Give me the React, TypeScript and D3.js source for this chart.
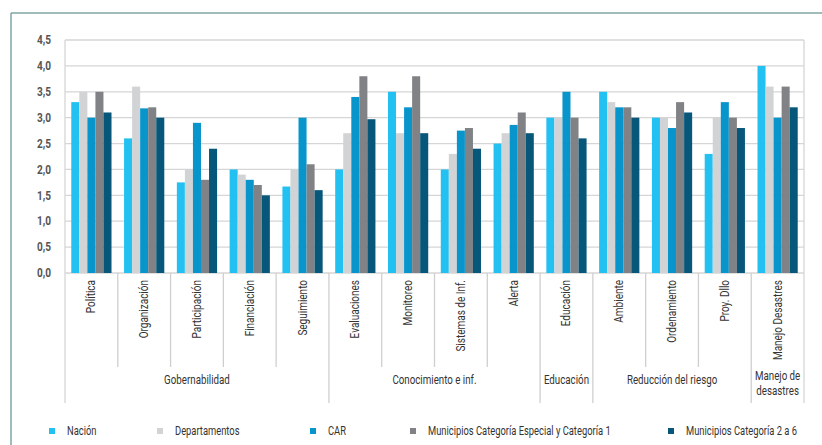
import React from "react";
import * as d3 from "d3";

const categories = ["Política", "Organización", "Participación", "Financiación", "Seguimiento", "Evaluaciones", "Monitoreo", "Sistemas de Inf.", "Alerta", "Educación", "Ambiente", "Ordenamiento", "Proy. Dllo", "Manejo Desastres"];
const seriesNames = ["Nación", "Departamentos", "CAR", "Municipios Categoría Especial y Categoría 1", "Municipios Categoría 2 a 6"];
const nacion = [3.3, 2.6, 1.75, 2.0, 1.67, 2.0, 3.5, 2.0, 2.5, 3.0, 3.5, 3.0, 2.3, 4.0];
const departamentos = [3.5, 3.6, 2.0, 1.9, 2.0, 2.7, 2.7, 2.3, 2.7, 3.0, 3.3, 3.0, 3.0, 3.6];
const car = [3.0, 3.18, 2.9, 1.8, 3.0, 3.4, 3.2, 2.75, 2.86, 3.5, 3.2, 2.8, 3.3, 3.0];
const munEspecial = [3.5, 3.2, 1.8, 1.7, 2.1, 3.8, 3.8, 2.8, 3.1, 3.0, 3.2, 3.3, 3.0, 3.6];
const mun2a6 = [3.1, 3.0, 2.4, 1.5, 1.6, 2.97, 2.7, 2.4, 2.7, 2.6, 3.0, 3.1, 2.8, 3.2];
const groups = [
  { name: ["Gobernabilidad"], start: 0, end: 4 },
  { name: ["Conocimiento e inf."], start: 5, end: 8 },
  { name: ["Educación"], start: 9, end: 9 },
  { name: ["Reducción del riesgo"], start: 10, end: 12 },
  { name: ["Manejo de", "desastres"], start: 13, end: 13 },
];
const yTicks = [0, 0.5, 1, 1.5, 2, 2.5, 3, 3.5, 4, 4.5];
const colors = ["#22c1f1", "#d1d3d4", "#0895cc", "#808285", "#06577a"];

const W = 822, H = 445;
const left = 65, right = 804, top = 40, bottom = 273;
const FONT = "Roboto, 'Noto Sans', sans-serif";
const SX = 0.75;

export default function App() {
  const series = [nacion, departamentos, car, munEspecial, mun2a6];
  const x = d3.scaleBand<string>().domain(categories).range([left, right]).paddingInner(0).paddingOuter(0);
  const x1 = d3.scaleBand<number>().domain(d3.range(series.length)).range([0, x.bandwidth()]).paddingInner(0).paddingOuter(0.78);
  const y = d3.scaleLinear().domain([0, 4.5]).range([bottom, top]);
  const fmt = (v: number) => d3.format(".1f")(v).replace(".", ",");
  const catSepBottom = 367, groupSepBottom = 403;
  const legendX = [52, 160, 313, 413, 671];
  const legendY = 431;
  return (
    <svg width={W} height={H} style={{ position: "absolute", left: 0, top: 0, background: "#fff" }} fontFamily={FONT}>
      <rect x={0} y={0} width={W} height={H} fill="#fff" />
      {/* frame */}
      <line x1={11} x2={W} y1={13} y2={13} stroke="#7fa6a3" strokeWidth={1.5} />
      <line x1={11} x2={11} y1={13} y2={H} stroke="#7fa6a3" strokeWidth={1.5} />
      {/* gridlines */}
      {yTicks.map((t) => (
        <line key={t} x1={left} x2={right} y1={y(t)} y2={y(t)} stroke="#d6d6d6" strokeWidth={1.3} />
      ))}
      <line x1={right} x2={right} y1={top} y2={groupSepBottom} stroke="#d6d6d6" strokeWidth={1.3} />
      <line x1={left} x2={left} y1={top} y2={groupSepBottom} stroke="#d6d6d6" strokeWidth={1.3} />
      {yTicks.map((t) => (
        <g key={"l" + t} transform={`translate(51,${y(t)}) scale(0.84,1)`}>
          <text x={0} y={0} dy="0.35em" textAnchor="end" fontSize={12} fontWeight="bold" fill="#555">
            {fmt(t)}
          </text>
        </g>
      ))}
      {/* bars */}
      {categories.map((c, i) => (
        <g key={c} transform={`translate(${x(c)},0)`}>
          {series.map((s, j) => (
            <rect key={j} x={x1(j)} width={x1.bandwidth()} y={y(s[i])} height={y(0) - y(s[i])} fill={colors[j]} />
          ))}
        </g>
      ))}
      {/* category separators */}
      {categories.map((c, i) => {
        if (i === 0) return null;
        const isGroup = groups.some((g) => g.start === i);
        const xx = x(c)!;
        return <line key={"s" + c} x1={xx} x2={xx} y1={bottom} y2={isGroup ? groupSepBottom : catSepBottom} stroke="#cfcfcf" strokeWidth={1.3} />;
      })}
      {/* category labels */}
      {categories.map((c) => {
        const cx = x(c)! + x.bandwidth() / 2;
        return (
          <text key={"c" + c} transform={`translate(${cx + 4},${280}) rotate(-90) scale(0.8,1)`} textAnchor="end" fontSize={12.5} fill="#333">
            {c}
          </text>
        );
      })}
      {/* group labels */}
      {groups.map((g) => {
        const x0 = x(categories[g.start])!;
        const x2 = x(categories[g.end])! + x.bandwidth();
        const cx = (x0 + x2) / 2;
        const y0 = g.name.length > 1 ? 380 : 384;
        return (
          <g key={g.name.join()} transform={`translate(${cx},${y0}) scale(${SX},1)`}>
            <text x={0} y={0} textAnchor="middle" fontSize={13} fill="#333">
              {g.name.map((n, k) => (
                <tspan key={k} x={0} dy={k === 0 ? 0 : 15}>{n}</tspan>
              ))}
            </text>
          </g>
        );
      })}
      {/* legend */}
      {seriesNames.map((n, j) => (
        <g key={n} transform={`translate(${legendX[j]},${legendY})`}>
          <rect x={-3} y={-3} width={6} height={6} fill={colors[j]} />
          <g transform={`translate(15,0) scale(${SX},1)`}>
            <text x={0} y={0} dy="0.35em" fontSize={12.5} fill="#333">{n}</text>
          </g>
        </g>
      ))}
    </svg>
  );
}
